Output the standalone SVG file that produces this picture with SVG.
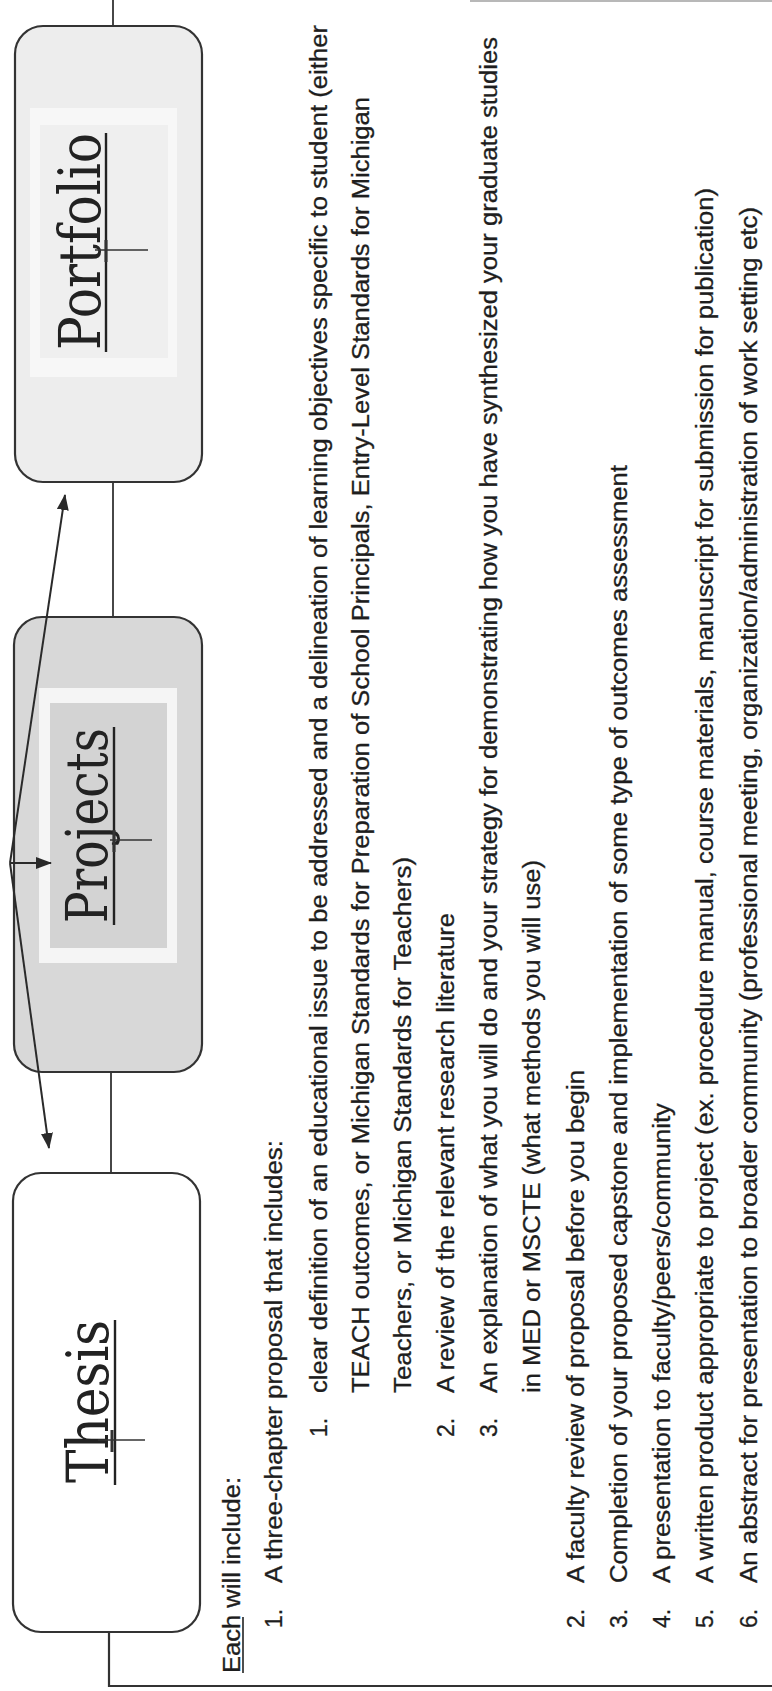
<svg xmlns="http://www.w3.org/2000/svg" width="772" height="1691" viewBox="0 0 772 1691">
<defs>
<marker id="ah" viewBox="0 0 16 12" refX="15" refY="6" markerWidth="16" markerHeight="12" markerUnits="userSpaceOnUse" orient="auto">
<path d="M0,0 L16,6 L0,12 Z" fill="#2a2a2a"/>
</marker>
</defs>
<style>
.box{stroke:#333;stroke-width:2.2}
.title{font-family:"DejaVu Serif","Liberation Serif",serif;font-size:58px;fill:#222}
.ul{stroke:#222;stroke-width:2.4}
.cross{stroke:#333;stroke-width:1.6}
.t{font-family:"Liberation Sans",Arial,sans-serif;font-size:23px;fill:#1e1e1e;stroke:#1e1e1e;stroke-width:0.3}
.conn{stroke:#333;stroke-width:1.8;fill:none}
.arr{stroke:#2a2a2a;stroke-width:2;fill:none;marker-end:url(#ah)}
</style>
<rect width="772" height="1691" fill="#ffffff"/>

<g id="portfolio">
<rect class="box" x="15" y="26" width="187" height="456" rx="28" fill="#ededed"/>
<rect x="30" y="108" width="147" height="269" fill="#f7f7f7"/>
<rect x="40" y="125" width="128" height="233" fill="#efefef"/>
<text class="title" transform="translate(100,350) rotate(-90)" textLength="217" lengthAdjust="spacingAndGlyphs">Portfolio</text>
<line class="ul" x1="106" y1="352" x2="106" y2="133"/>
<line class="cross" x1="95" y1="250" x2="148" y2="250"/>
<line class="cross" x1="106" y1="240" x2="106" y2="262" style="stroke-width:3"/>
</g>

<g id="projects">
<rect class="box" x="14" y="617" width="188" height="455" rx="28" fill="#d8d8d8"/>
<rect x="39" y="688" width="138" height="275" fill="#f5f5f5"/>
<rect x="50" y="703" width="117" height="245" fill="#d3d3d3"/>
<text class="title" transform="translate(107,923) rotate(-90)" textLength="195" lengthAdjust="spacingAndGlyphs">Projects</text>
<line class="ul" x1="114" y1="925" x2="114" y2="727"/>
<line class="cross" x1="110" y1="840" x2="152" y2="840"/>
<line class="cross" x1="114" y1="830" x2="114" y2="852" style="stroke-width:3"/>
</g>

<g id="thesis">
<rect class="box" x="13" y="1173" width="187" height="459" rx="28" fill="#ffffff"/>
<text class="title" transform="translate(108,1483) rotate(-90)" textLength="163" lengthAdjust="spacingAndGlyphs">Thesis</text>
<line class="ul" x1="115" y1="1485" x2="115" y2="1320"/>
<line class="cross" x1="98" y1="1440" x2="145" y2="1440"/>
<line class="cross" x1="112" y1="1430" x2="112" y2="1452" style="stroke-width:3"/>
</g>

<g id="connectors">
<line class="conn" x1="113" y1="0" x2="113" y2="26"/>
<line class="conn" x1="113" y1="482" x2="113" y2="617"/>
<line class="conn" x1="111" y1="1072" x2="111" y2="1173"/>
<polyline class="conn" points="109,1632 109,1686 772,1686" style="stroke-width:2.2"/>
<line x1="470" y1="1" x2="772" y2="1" stroke="#b8b8b8" stroke-width="2"/>
<line class="arr" x1="10" y1="863" x2="65" y2="495"/>
<line class="arr" x1="10" y1="863" x2="51" y2="863"/>
<line class="arr" x1="10" y1="863" x2="49" y2="1148"/>
</g>

<g id="list">
<text class="t" transform="translate(240,1673) rotate(-90)" textLength="196" lengthAdjust="spacingAndGlyphs">Each will include:</text>
<line x1="243" y1="1673" x2="243" y2="1617" stroke="#222" stroke-width="1.6"/>

<text class="t" transform="translate(282,1628) rotate(-90)">1.</text>
<text class="t" transform="translate(282,1583) rotate(-90)" textLength="443" lengthAdjust="spacingAndGlyphs">A three-chapter proposal that includes:</text>

<text class="t" transform="translate(327,1437) rotate(-90)">1.</text>
<text class="t" transform="translate(327,1393) rotate(-90)" textLength="1368" lengthAdjust="spacingAndGlyphs">clear definition of an educational issue to be addressed and a delineation of learning objectives specific to student (either</text>
<text class="t" transform="translate(369,1393) rotate(-90)" textLength="1296" lengthAdjust="spacingAndGlyphs">TEACH outcomes, or Michigan Standards for Preparation of School Principals, Entry-Level Standards for Michigan</text>
<text class="t" transform="translate(411,1393) rotate(-90)" textLength="536" lengthAdjust="spacingAndGlyphs">Teachers, or Michigan Standards for Teachers)</text>

<text class="t" transform="translate(454,1437) rotate(-90)">2.</text>
<text class="t" transform="translate(454,1393) rotate(-90)" textLength="480" lengthAdjust="spacingAndGlyphs">A review of the relevant research literature</text>

<text class="t" transform="translate(497,1437) rotate(-90)">3.</text>
<text class="t" transform="translate(497,1393) rotate(-90)" textLength="1356" lengthAdjust="spacingAndGlyphs">An explanation of what you will do and your strategy for demonstrating how you have synthesized your graduate studies</text>
<text class="t" transform="translate(540,1393) rotate(-90)" textLength="533" lengthAdjust="spacingAndGlyphs">in MED or MSCTE (what methods you will use)</text>

<text class="t" transform="translate(584,1628) rotate(-90)">2.</text>
<text class="t" transform="translate(584,1583) rotate(-90)" textLength="513" lengthAdjust="spacingAndGlyphs">A faculty review of proposal before you begin</text>

<text class="t" transform="translate(627,1628) rotate(-90)">3.</text>
<text class="t" transform="translate(627,1583) rotate(-90)" textLength="1118" lengthAdjust="spacingAndGlyphs">Completion of your proposed capstone and implementation of some type of outcomes assessment</text>

<text class="t" transform="translate(670,1628) rotate(-90)">4.</text>
<text class="t" transform="translate(670,1583) rotate(-90)" textLength="480" lengthAdjust="spacingAndGlyphs">A presentation to faculty/peers/community</text>

<text class="t" transform="translate(713,1628) rotate(-90)">5.</text>
<text class="t" transform="translate(713,1583) rotate(-90)" textLength="1395" lengthAdjust="spacingAndGlyphs">A written product appropriate to project (ex. procedure manual, course materials, manuscript for submission for publication)</text>

<text class="t" transform="translate(757,1628) rotate(-90)">6.</text>
<text class="t" transform="translate(757,1583) rotate(-90)" textLength="1376" lengthAdjust="spacingAndGlyphs">An abstract for presentation to broader community (professional meeting, organization/administration of work setting etc)</text>
</g>
</svg>
